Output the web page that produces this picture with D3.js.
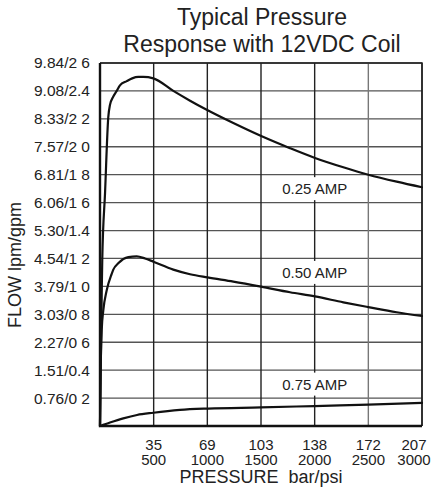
<!DOCTYPE html>
<html>
<head>
<meta charset="utf-8">
<script src="https://cdn.jsdelivr.net/npm/d3@7"></script>
<style>
  html, body { margin: 0; padding: 0; background: #fff; }
  svg { display: block; font-family: "Liberation Sans", Arial, Helvetica, sans-serif; }
</style>
</head>
<body>
<svg id="chart" width="433" height="494"></svg>
<script>
// ---- Data ----
const titleLines = ["Typical Pressure", "Response with 12VDC Coil"];
const xTitle = "PRESSURE  bar/psi";
const yTitle = "FLOW lpm/gpm";

const psiTicks = [500, 1000, 1500, 2000, 2500, 3000];
const barLabels = ["35", "69", "103", "138", "172", "207"];
const psiLabels = ["500", "1000", "1500", "2000", "2500", "3000"];

const gpmTicks = [0.2, 0.4, 0.6, 0.8, 1.0, 1.2, 1.4, 1.6, 1.8, 2.0, 2.2, 2.4, 2.6];
const yLabels = ["0.76/0 2", "1.51/0.4", "2.27/0 6", "3.03/0 8", "3.79/1 0", "4.54/1 2",
                 "5.30/1.4", "6.06/1 6", "6.81/1 8", "7.57/2 0", "8.33/2 2", "9.08/2.4", "9.84/2 6"];

const seriesNames = ["0.25 AMP", "0.50 AMP", "0.75 AMP"];
const labelPsi = [2000, 2000, 2000];
const labelGpm = [1.7, 1.1, 0.3];

// [psi, gpm]
const amp025 = [
  [0, 0], [16, 0.95], [21, 1.19], [47, 1.67], [77, 2.21], [93, 2.30], [124, 2.36],
  [156, 2.40], [186, 2.44], [249, 2.47], [300, 2.49], [357, 2.50], [403, 2.50],
  [497, 2.49], [683, 2.40], [839, 2.33], [994, 2.265], [1242, 2.17], [1507, 2.075],
  [1770, 1.99], [2003, 1.92], [2267, 1.853], [2500, 1.80], [2764, 1.75], [3000, 1.71]
];
const amp050 = [
  [0, 0], [5, 0.35], [16, 0.69], [31, 0.83], [62, 0.97], [109, 1.09], [124, 1.12],
  [170, 1.165], [264, 1.21], [342, 1.215], [419, 1.20], [497, 1.177], [683, 1.12],
  [839, 1.087], [1002, 1.064], [1242, 1.034], [1500, 0.998], [1770, 0.958],
  [2003, 0.928], [2267, 0.886], [2500, 0.852], [2764, 0.815], [3000, 0.788]
];
const amp075 = [
  [0, 0], [93, 0.025], [217, 0.055], [345, 0.079], [497, 0.095], [745, 0.115],
  [1009, 0.125], [1500, 0.133], [1999, 0.143], [2500, 0.153], [3000, 0.165]
];
const seriesData = [amp025, amp050, amp075];

// ---- Layout ----
const W = 433, H = 494;
const margin = { top: 63, right: 11, bottom: 68, left: 100 };
const iw = W - margin.left - margin.right;
const ih = H - margin.top - margin.bottom;

const svg = d3.select("#chart");
const x = d3.scaleLinear().domain([0, 3000]).range([margin.left, margin.left + iw]);
const y = d3.scaleLinear().domain([0, 2.6]).range([margin.top + ih, margin.top]);

// gridlines
const gridH = gpmTicks.map(d => `M${x(0)},${y(d)}L${x(3000)},${y(d)}`).join("");
svg.append("path").attr("d", gridH)
  .style("fill", "none").style("stroke", "#555").style("stroke-width", "1.3px");

const gridV = psiTicks.filter(d => d !== 2500).map(d => `M${x(d)},${y(0)}L${x(d)},${y(2.6)}`).join("");
svg.append("path").attr("d", gridV)
  .style("fill", "none").style("stroke", "#222").style("stroke-width", "1.4px");
svg.append("path").attr("d", `M${x(2500)},${y(0)}L${x(2500)},${y(2.6)}`)
  .style("fill", "none").style("stroke", "#777").style("stroke-width", "1.4px");

// frame
svg.append("path").attr("d", `M${x(0)},${y(2.6)}L${x(3000)},${y(2.6)}L${x(3000)},${y(0)}`)
  .style("fill", "none").style("stroke", "#222").style("stroke-width", "1.5px");
svg.append("path").attr("d", `M${x(0)},${y(2.6)}L${x(0)},${y(0)}L${x(3000)},${y(0)}`)
  .style("fill", "none").style("stroke", "#111").style("stroke-width", "2.4px");

// y tick labels
svg.append("g").attr("class", "yaxis")
  .attr("transform", `translate(${margin.left},0)`)
  .call(d3.axisLeft(y).tickValues(gpmTicks).tickSize(0).tickPadding(10)
        .tickFormat((d, i) => yLabels[i]))
  .call(s => s.select(".domain").remove())
  .call(s => s.selectAll("text").attr("font-size", "15.5px").attr("fill", "#222")
        .attr("font-family", "'Liberation Sans', Arial, sans-serif"));

// x tick labels (two rows: bar above psi)
const xl = svg.append("g").attr("class", "xlabels");
psiTicks.forEach((p, i) => {
  const dx = i === psiTicks.length - 1 ? -8 : 0;
  const t = xl.append("text").attr("text-anchor", "middle")
    .attr("font-size", "15px").attr("fill", "#222");
  t.append("tspan").attr("x", x(p) + dx).attr("y", y(0) + 24).text(barLabels[i]);
  t.append("tspan").attr("x", x(p) + dx).attr("y", y(0) + 39).text(psiLabels[i]);
});

// series label boxes
seriesNames.forEach((name, i) => {
  const cx = x(labelPsi[i]), cy = y(labelGpm[i]);
  svg.append("rect").attr("x", cx - 36).attr("y", cy - 11.5).attr("width", 72).attr("height", 23)
    .style("fill", "#fff");
  svg.append("text").attr("x", cx).attr("y", cy).attr("dy", "0.36em")
    .attr("text-anchor", "middle").attr("font-size", "15px").attr("fill", "#222")
    .text(name);
});

// curves
const lineGen = d3.line().x(d => x(d[0])).y(d => y(d[1])).curve(d3.curveMonotoneX);
seriesData.forEach(s => {
  svg.append("path").datum(s).attr("d", lineGen)
    .attr("fill", "none").attr("stroke", "#111").attr("stroke-width", 2.2)
    .attr("stroke-linejoin", "round").attr("stroke-linecap", "round");
});

// titles
svg.append("text").attr("x", 262).attr("y", 25).attr("text-anchor", "middle")
  .attr("font-size", "23px").attr("fill", "#222").text(titleLines[0]);
svg.append("text").attr("x", 262).attr("y", 52).attr("text-anchor", "middle")
  .attr("font-size", "23px").attr("fill", "#222").text(titleLines[1]);

svg.append("text").attr("x", margin.left + iw / 2).attr("y", 483).attr("text-anchor", "middle")
  .attr("font-size", "18px").attr("fill", "#222")
  .style("white-space", "pre").text(xTitle);

svg.append("text").attr("transform", `translate(21,265) rotate(-90)`)
  .attr("text-anchor", "middle").attr("font-size", "18px").attr("fill", "#222")
  .text(yTitle);
</script>
</body>
</html>
